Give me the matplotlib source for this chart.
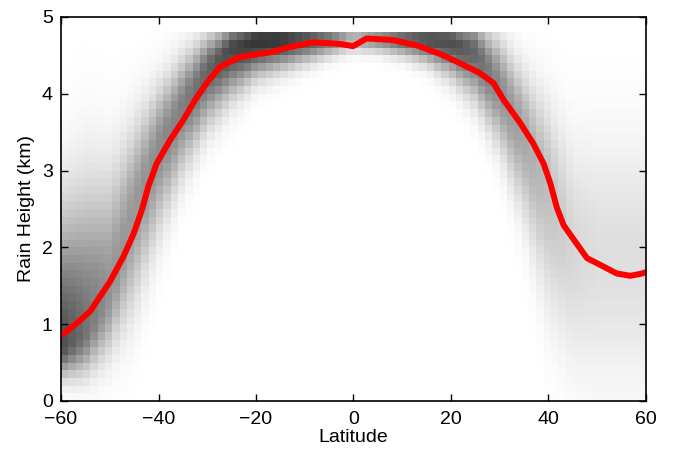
import numpy as np
import matplotlib
matplotlib.use("Agg")
import matplotlib.pyplot as plt

plt.rcParams['font.family'] = ['Liberation Sans', 'DejaVu Sans']

# mean rain height (red line)
line_lat = [-60, -57, -54, -52, -50, -47.2, -45.1, -43.4, -42.1, -40.4, -37.6, -34.9,
            -32.5, -30, -27.4, -23.3, -17.1, -13, -8.3, -2.8, -0.1, 2.7, 8.1, 13,
            17.7, 21.8, 25.9, 28.7, 30.8, 34.2, 36.9, 39.0, 40.4, 41.7, 43.1, 45.2,
            47.9, 51.3, 54.0, 56.8, 59.2, 60]
line_h = [0.85, 1.00, 1.17, 1.36, 1.55, 1.88, 2.18, 2.49, 2.79, 3.09, 3.40, 3.66,
          3.92, 4.15, 4.35, 4.48, 4.54, 4.61, 4.67, 4.65, 4.62, 4.72, 4.70, 4.63,
          4.52, 4.40, 4.27, 4.14, 3.92, 3.62, 3.35, 3.09, 2.83, 2.52, 2.29, 2.10,
          1.86, 1.75, 1.66, 1.63, 1.66, 1.68]

# shape of the frequency band (gray shading) at a few latitudes
band_lat = [-60, -55, -50, -45, -40, -35, -30, -25, -20, -15, -10, -5, 0,
            5, 10, 15, 20, 25, 30, 35, 40, 45, 50, 55, 60]
band_peak = [0.7, 0.9, 1.4, 2.5, 3.3, 3.85, 4.3, 4.6, 4.7, 4.72, 4.72, 4.72, 4.72,
             4.72, 4.72, 4.72, 4.7, 4.55, 4.1, 3.5, 2.8, 2.0, 1.9, 1.9, 1.9]
band_sd_lo = [0.25, 0.35, 0.5, 0.8, 0.7, 0.55, 0.45, 0.4, 0.3, 0.25, 0.2, 0.15, 0.12,
              0.12, 0.15, 0.2, 0.3, 0.4, 0.5, 0.7, 1.0, 1.0, 1.1, 1.1, 1.1]
band_sd_hi = [1.1, 1.2, 1.0, 0.7, 0.5, 0.4, 0.3, 0.2, 0.15, 0.1, 0.1, 0.1, 0.1,
              0.1, 0.1, 0.1, 0.12, 0.25, 0.4, 0.5, 0.7, 0.9, 1.0, 1.0, 1.0]
band_amp = [0.7, 0.55, 0.42, 0.4, 0.45, 0.5, 0.6, 0.72, 0.8, 0.8, 0.7, 0.55, 0.3,
            0.45, 0.6, 0.7, 0.7, 0.6, 0.45, 0.35, 0.25, 0.16, 0.13, 0.13, 0.13]
h_top = 4.8

lat_edges = np.arange(-60, 60.01, 1.5)
h_edges = np.arange(0, 5.001, 0.1)
lat_c = 0.5 * (lat_edges[:-1] + lat_edges[1:])
h_c = 0.5 * (h_edges[:-1] + h_edges[1:])

pk = np.interp(lat_c, band_lat, band_peak)
slo = np.interp(lat_c, band_lat, band_sd_lo)
shi = np.interp(lat_c, band_lat, band_sd_hi)
amp = np.interp(lat_c, band_lat, band_amp)

H, P = np.meshgrid(h_c, pk, indexing='ij')
sd = np.where(H < P, slo[None, :], shi[None, :])
freq = amp[None, :] * np.exp(-0.5 * ((H - P) / sd) ** 2)
freq[H > h_top] = 0

fig = plt.figure(figsize=(6.75, 4.53), dpi=100)
ax = fig.add_axes([0.0904, 0.1148, 0.8666, 0.8477])
ax.pcolormesh(lat_edges, h_edges, freq, cmap='gray_r', vmin=0, vmax=1, shading='flat')
ax.plot(line_lat, line_h, color='red', lw=4.3, solid_joinstyle='round',
        solid_capstyle='butt')

ax.set_xlim(-60, 60)
ax.set_ylim(0, 5)
ax.set_xticks([-60, -40, -20, 0, 20, 40, 60])
ax.set_yticks([0, 1, 2, 3, 4, 5])
ax.tick_params(direction='in', length=5, width=1, top=True, right=True, labelsize=14)
ax.tick_params(axis='x', pad=7)
ax.tick_params(axis='y', pad=6)
for s in ax.spines.values():
    s.set_linewidth(1.2)
ax.set_xlabel('Latitude', fontsize=14, labelpad=1)
ax.set_ylabel('Rain Height (km)', fontsize=14, labelpad=5)

fig.savefig('out.png', dpi=100)
